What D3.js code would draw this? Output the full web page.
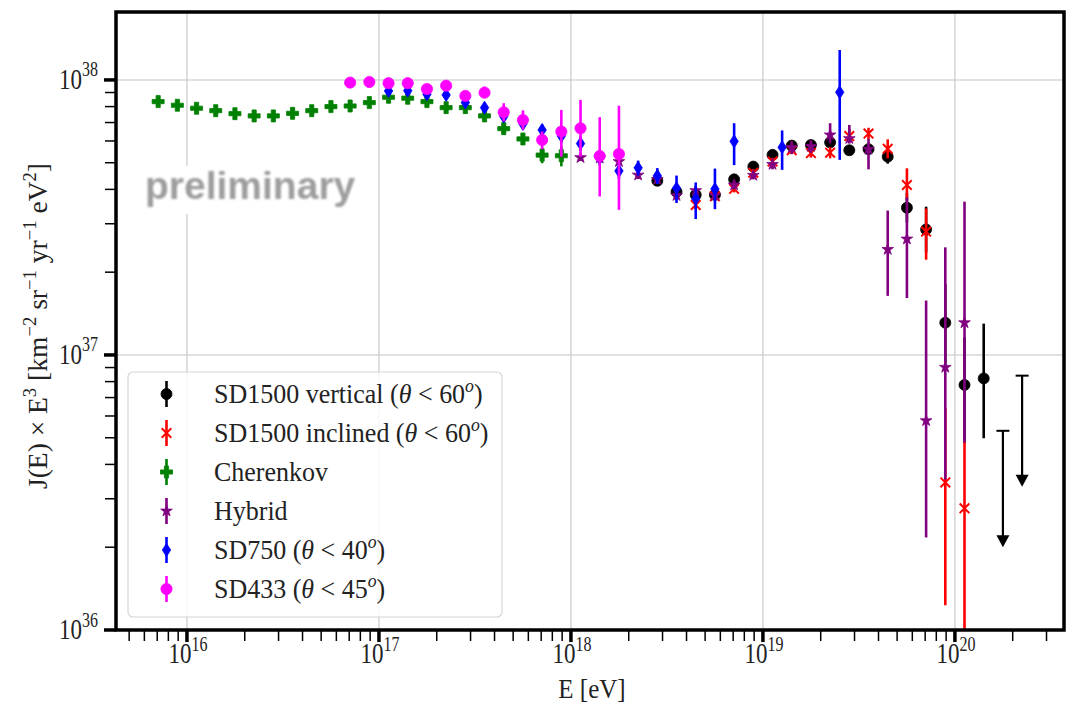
<!DOCTYPE html>
<html>
<head>
<meta charset="utf-8">
<script src="https://cdn.jsdelivr.net/npm/d3@7"></script>
<style>
  body { margin: 0; background: #ffffff; }
  svg text { font-family: "Liberation Serif", "DejaVu Serif", serif; fill: #222; }
</style>
</head>
<body>
<svg id="chart" width="1077" height="706"></svg>
<script>
// Flux J(E) x E^3 in units of 1e37 km^-2 sr^-1 yr^-1 eV^2, energies as log10(E/eV)
const J_UNIT = 1e37;

const sd1500vLgE = [18.45, 18.55, 18.65, 18.75, 18.85, 18.95, 19.05, 19.15, 19.25, 19.35, 19.45, 19.55, 19.65, 19.75, 19.85, 19.95, 20.05, 20.15];
const sd1500vJ   = [4.30, 3.92, 3.82, 3.82, 4.35, 4.84, 5.34, 5.77, 5.80, 5.93, 5.55, 5.60, 5.26, 3.43, 2.86, 1.31, 0.778, 0.822];
const sd1500vLo  = [0.08, 0.08, 0.08, 0.08, 0.08, 0.08, 0.10, 0.10, 0.12, 0.15, 0.18, 0.22, 0.30, 0.40, 0.50, 0.38, 0.30, 0.324];
const sd1500vHi  = [0.08, 0.08, 0.08, 0.08, 0.08, 0.08, 0.10, 0.10, 0.12, 0.15, 0.18, 0.22, 0.30, 0.45, 0.60, 0.50, 0.38, 0.478];
// upper limits: cap value and end of the arrow
const sd1500vUlLgE = [20.25, 20.35];
const sd1500vUlJ   = [0.53, 0.841];
const sd1500vUlEnd = [0.20, 0.332];

const sd1500iLgE = [18.65, 18.75, 18.85, 18.95, 19.05, 19.15, 19.25, 19.35, 19.45, 19.55, 19.65, 19.75, 19.85, 19.95, 20.05];
const sd1500iJ   = [3.51, 3.78, 4.02, 4.60, 5.05, 5.55, 5.42, 5.44, 6.25, 6.38, 5.62, 4.15, 2.81, 0.344, 0.277];
const sd1500iLo  = [0.12, 0.12, 0.12, 0.14, 0.16, 0.18, 0.20, 0.25, 0.30, 0.30, 0.43, 0.49, 0.59, 0.221, 0.25];
const sd1500iHi  = [0.12, 0.12, 0.12, 0.14, 0.16, 0.18, 0.20, 0.25, 0.40, 0.32, 0.46, 0.62, 0.60, 0.30, 0.213];

const cherLgE = [15.85, 15.95, 16.05, 16.15, 16.25, 16.35, 16.45, 16.55, 16.65, 16.75, 16.85, 16.95, 17.05, 17.15, 17.25, 17.35, 17.45, 17.55, 17.65, 17.75, 17.85, 17.95];
const cherJ   = [8.34, 8.09, 7.89, 7.73, 7.54, 7.40, 7.40, 7.56, 7.73, 8.00, 8.04, 8.27, 8.65, 8.58, 8.34, 7.93, 7.93, 7.40, 6.65, 6.10, 5.33, 5.30];
const cherErr = [0.15, 0.15, 0.15, 0.15, 0.15, 0.15, 0.15, 0.15, 0.15, 0.15, 0.15, 0.15, 0.15, 0.15, 0.15, 0.20, 0.20, 0.25, 0.25, 0.30, 0.35, 0.45];

const hybridLgE = [18.05, 18.15, 18.25, 18.35, 18.45, 18.55, 18.65, 18.75, 18.85, 18.95, 19.05, 19.15, 19.25, 19.35, 19.45, 19.55, 19.65, 19.75, 19.85, 19.95, 20.05];
const hybridJ   = [5.22, 5.20, 5.05, 4.51, 4.35, 3.80, 3.96, 3.80, 4.15, 4.50, 4.93, 5.68, 5.73, 6.31, 6.12, 5.60, 2.42, 2.64, 0.577, 0.902, 1.31];
const hybridLo  = [0.15, 0.15, 0.15, 0.15, 0.15, 0.15, 0.15, 0.15, 0.15, 0.15, 0.20, 0.30, 0.30, 0.43, 0.25, 0.87, 0.78, 1.03, 0.36, 0.55, 0.83];
const hybridHi  = [0.15, 0.15, 0.15, 0.15, 0.15, 0.15, 0.15, 0.15, 0.15, 0.15, 0.20, 0.30, 0.30, 0.65, 0.74, 0.50, 0.93, 1.10, 1.00, 1.56, 2.30];

const sd750LgE = [17.05, 17.15, 17.25, 17.35, 17.45, 17.55, 17.65, 17.75, 17.85, 17.95, 18.05, 18.15, 18.25, 18.35, 18.45, 18.55, 18.65, 18.75, 18.85, 19.1, 19.4];
const sd750J   = [9.12, 9.14, 8.87, 8.82, 8.27, 7.93, 7.36, 6.92, 6.58, 6.26, 5.87, 5.19, 4.67, 4.79, 4.48, 4.04, 3.70, 4.01, 5.98, 5.69, 9.02];
const sd750Lo  = [0.20, 0.20, 0.20, 0.25, 0.25, 0.30, 0.30, 0.30, 0.30, 0.35, 0.35, 0.30, 0.30, 0.30, 0.30, 0.47, 0.58, 0.62, 1.08, 0.98, 3.90];
const sd750Hi  = [0.20, 0.20, 0.20, 0.25, 0.25, 0.30, 0.30, 0.30, 0.30, 0.35, 0.35, 0.30, 0.30, 0.30, 0.30, 0.45, 0.54, 0.75, 0.98, 0.86, 3.83];

const sd433LgE = [16.85, 16.95, 17.05, 17.15, 17.25, 17.35, 17.45, 17.55, 17.65, 17.75, 17.85, 17.95, 18.05, 18.15, 18.25];
const sd433J   = [9.78, 9.83, 9.73, 9.73, 9.27, 9.53, 8.75, 8.99, 7.63, 7.15, 6.05, 6.49, 6.67, 5.29, 5.38];
const sd433Lo  = [0.15, 0.15, 0.15, 0.15, 0.20, 0.20, 0.25, 0.40, 0.55, 0.55, 0.45, 1.23, 1.41, 1.52, 2.01];
const sd433Hi  = [0.15, 0.15, 0.15, 0.15, 0.20, 0.20, 0.30, 0.47, 0.60, 0.60, 0.45, 1.29, 1.79, 2.03, 2.68];

const xTickExps = [16, 17, 18, 19, 20];
const yTickExps = [36, 37, 38];

// ---------------------------------------------------------------
const svg = d3.select("#chart");
const plot = { left: 116, right: 1064, top: 12, bottom: 630 };

const x = d3.scaleLog().domain([4.27e15, 3.70e20]).range([plot.left, plot.right]);
const y = d3.scaleLog().domain([1e36, 1.766e38]).range([plot.bottom, plot.top]);

const X = lg => x(Math.pow(10, lg));
const Y = v => y(v * J_UNIT);

svg.append("defs").html(`
  <clipPath id="plotClip"><rect x="${plot.left}" y="${plot.top}" width="${plot.right - plot.left}" height="${plot.bottom - plot.top}"/></clipPath>
  <filter id="soft" x="-10%" y="-30%" width="120%" height="160%"><feGaussianBlur stdDeviation="1.3"/></filter>
`);

// grid
const grid = svg.append("g");
xTickExps.forEach(e => {
  grid.append("line").attr("x1", x(Math.pow(10, e))).attr("x2", x(Math.pow(10, e)))
    .attr("y1", plot.top).attr("y2", plot.bottom).attr("stroke", "#c4c4c4").attr("stroke-width", 1.1);
});
yTickExps.forEach(e => {
  grid.append("line").attr("x1", plot.left).attr("x2", plot.right)
    .attr("y1", y(Math.pow(10, e))).attr("y2", y(Math.pow(10, e))).attr("stroke", "#c4c4c4").attr("stroke-width", 1.1);
});

// watermark
const wm = svg.append("g");
wm.append("rect").attr("x", 138).attr("y", 166).attr("width", 230).attr("height", 48).attr("fill", "#ffffff");
wm.append("text").attr("x", 145).attr("y", 199)
  .style("font-family", "'Liberation Sans', Arial, sans-serif").style("font-weight", "bold")
  .style("font-size", "39px").style("fill", "#9d9d9d").attr("filter", "url(#soft)")
  .text("preliminary");

// marker paths centred on (0,0)
function markerPath(kind) {
  switch (kind) {
    case "circle": return d3.symbol(d3.symbolCircle, Math.PI * 5.5 * 5.5)();
    case "bigcircle": return d3.symbol(d3.symbolCircle, Math.PI * 5.6 * 5.6)();
    case "plus": {
      const a = 6, t = 2.1;
      return `M${-t},${-a}H${t}V${-t}H${a}V${t}H${t}V${a}H${-t}V${t}H${-a}V${-t}H${-t}Z`;
    }
    case "star": return d3.symbol(d3.symbolStar, 42)();
    case "diamond": return "M0,-6.5L4.2,0L0,6.5L-4.2,0Z";
    case "x": return "M-4.8,-4.8L4.8,4.8M-4.8,4.8L4.8,-4.8";
  }
}

const series = [
  { label: "vert", color: "#000000", marker: "circle", lgE: sd1500vLgE, J: sd1500vJ, lo: sd1500vLo, hi: sd1500vHi },
  { label: "incl", color: "#ff0000", marker: "x", lgE: sd1500iLgE, J: sd1500iJ, lo: sd1500iLo, hi: sd1500iHi },
  { label: "cher", color: "#008000", marker: "plus", lgE: cherLgE, J: cherJ, lo: cherErr, hi: cherErr },
  { label: "hyb", color: "#800080", marker: "star", lgE: hybridLgE, J: hybridJ, lo: hybridLo, hi: hybridHi },
  { label: "sd750", color: "#0000ff", marker: "diamond", lgE: sd750LgE, J: sd750J, lo: sd750Lo, hi: sd750Hi },
  { label: "sd433", color: "#ff00ff", marker: "bigcircle", lgE: sd433LgE, J: sd433J, lo: sd433Lo, hi: sd433Hi }
];

function drawMarker(g, kind, color, cx, cy) {
  const p = g.append("path").attr("d", markerPath(kind)).attr("transform", `translate(${cx},${cy})`);
  if (kind === "x") p.attr("fill", "none").attr("stroke", color).attr("stroke-width", 2);
  else p.attr("fill", color).attr("stroke", color).attr("stroke-width", 0.8);
}

const dataG = svg.append("g").attr("clip-path", "url(#plotClip)");
series.forEach(s => {
  const g = dataG.append("g");
  s.lgE.forEach((lg, i) => {
    const top = s.J[i] + s.hi[i];
    const bot = Math.max(s.J[i] - s.lo[i], 0.01);
    g.append("line").attr("x1", X(lg)).attr("x2", X(lg))
      .attr("y1", Y(top)).attr("y2", Y(bot))
      .attr("stroke", s.color).attr("stroke-width", 2.6);
    drawMarker(g, s.marker, s.color, X(lg), Y(s.J[i]));
  });
  if (s.label === "vert") {
    sd1500vUlLgE.forEach((lg, i) => {
      const cx = X(lg), yc = Y(sd1500vUlJ[i]), ye = Y(sd1500vUlEnd[i]);
      g.append("line").attr("x1", cx).attr("x2", cx).attr("y1", yc).attr("y2", ye - 10)
        .attr("stroke", "#000").attr("stroke-width", 2.2);
      g.append("line").attr("x1", cx - 6.5).attr("x2", cx + 6.5).attr("y1", yc).attr("y2", yc)
        .attr("stroke", "#000").attr("stroke-width", 2);
      g.append("path").attr("d", `M${cx - 6.5},${ye - 12}L${cx + 6.5},${ye - 12}L${cx},${ye}Z`).attr("fill", "#000");
    });
  }
});

// axes ticks
const axes = svg.append("g");
const xMinor = [], yMinor = [];
[15, 16, 17, 18, 19, 20].forEach(e => d3.range(2, 10).forEach(m => xMinor.push(m * Math.pow(10, e))));
[36, 37].forEach(e => d3.range(2, 10).forEach(m => yMinor.push(m * Math.pow(10, e))));
const [xl, xh] = x.domain();
xMinor.filter(v => v > xl && v < xh).forEach(v => {
  axes.append("line").attr("x1", x(v)).attr("x2", x(v)).attr("y1", plot.bottom).attr("y2", plot.bottom + 11)
    .attr("stroke", "#000").attr("stroke-width", 1.5);
});
yMinor.forEach(v => {
  axes.append("line").attr("y1", y(v)).attr("y2", y(v)).attr("x1", plot.left).attr("x2", plot.left - 11)
    .attr("stroke", "#000").attr("stroke-width", 1.5);
});
xTickExps.forEach(e => {
  const px = x(Math.pow(10, e));
  axes.append("line").attr("x1", px).attr("x2", px).attr("y1", plot.bottom).attr("y2", plot.bottom + 12)
    .attr("stroke", "#000").attr("stroke-width", 3.5);
  const t = axes.append("text").attr("transform", `translate(${px + 1},663) scale(1,1.25)`)
    .attr("text-anchor", "middle").style("font-size", "23px");
  t.append("tspan").text("10");
  t.append("tspan").attr("dy", -10).style("font-size", "16px").text(String(e));
});
yTickExps.forEach(e => {
  const py = y(Math.pow(10, e));
  axes.append("line").attr("y1", py).attr("y2", py).attr("x1", plot.left).attr("x2", plot.left - 12)
    .attr("stroke", "#000").attr("stroke-width", 3.5);
  const t = axes.append("text").attr("transform", `translate(98,${py + 9}) scale(1,1.25)`)
    .attr("text-anchor", "end").style("font-size", "23px");
  t.append("tspan").text("10");
  t.append("tspan").attr("dy", -10).style("font-size", "16px").text(String(e));
});

// axis titles
const xt = axes.append("text").attr("transform", "translate(592,698) scale(1,1.1)")
  .attr("text-anchor", "middle").style("font-size", "25px");
xt.text("E [eV]");

function richText(sel, parts, supSize, rise) {
  let raised = false;
  parts.forEach(p => {
    const ts = sel.append("tspan").text(p.t);
    if (p.sup && !raised) { ts.attr("dy", -rise).style("font-size", supSize); raised = true; }
    else if (!p.sup && raised) { ts.attr("dy", rise); raised = false; }
    else if (p.sup) ts.style("font-size", supSize);
    if (p.it) ts.style("font-style", "italic");
  });
}
const yt = axes.append("text").attr("text-anchor", "middle")
  .attr("transform", "translate(47,326) rotate(-90) scale(1.1,1.08)").style("font-size", "25px");
richText(yt, [
  { t: "J(E) × E" }, { t: "3", sup: true }, { t: " [km" }, { t: "−2", sup: true },
  { t: " sr" }, { t: "−1", sup: true }, { t: " yr" }, { t: "−1", sup: true },
  { t: " eV" }, { t: "2", sup: true }, { t: "]" }
], "17px", 10);

// legend
const legendLabels = [
  [{ t: "SD1500 vertical (" }, { t: "θ", it: true }, { t: " < 60" }, { t: "o", sup: true, it: true }, { t: ")" }],
  [{ t: "SD1500 inclined (" }, { t: "θ", it: true }, { t: " < 60" }, { t: "o", sup: true, it: true }, { t: ")" }],
  [{ t: "Cherenkov" }],
  [{ t: "Hybrid" }],
  [{ t: "SD750 (" }, { t: "θ", it: true }, { t: " < 40" }, { t: "o", sup: true, it: true }, { t: ")" }],
  [{ t: "SD433 (" }, { t: "θ", it: true }, { t: " < 45" }, { t: "o", sup: true, it: true }, { t: ")" }]
];
const leg = svg.append("g");
leg.append("rect").attr("x", 128).attr("y", 372).attr("width", 374).attr("height", 245).attr("rx", 5)
  .attr("fill", "#ffffff").attr("fill-opacity", 0.82).attr("stroke", "#d6d6d6").attr("stroke-width", 1.2);
series.forEach((s, i) => {
  const cy = 394 + i * 39;
  leg.append("line").attr("x1", 166.5).attr("x2", 166.5).attr("y1", cy - 13).attr("y2", cy + 13)
    .attr("stroke", s.color).attr("stroke-width", 2.6);
  drawMarker(leg, s.marker, s.color, 166.5, cy);
  const t = leg.append("text").attr("transform", `translate(214,${cy + 9}) scale(1.04,1.12)`)
    .style("font-size", "25px");
  richText(t, legendLabels[i], "17px", 10);
});

// frame
svg.append("rect").attr("x", plot.left).attr("y", plot.top)
  .attr("width", plot.right - plot.left).attr("height", plot.bottom - plot.top)
  .attr("fill", "none").attr("stroke", "#000").attr("stroke-width", 3.5);
</script>
</body>
</html>
